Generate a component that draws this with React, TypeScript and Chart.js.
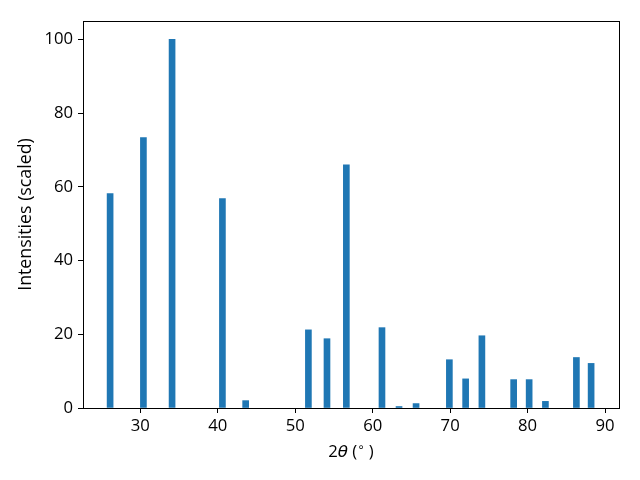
import React, { useEffect, useRef } from "react";
import { Chart, registerables } from "chart.js";

Chart.register(...registerables);

const twoTheta = [26.1, 30.4, 34.1, 40.6, 43.6, 51.7, 54.1, 56.6, 61.2, 63.4, 65.6, 69.9, 72.0, 74.1, 78.2, 80.2, 82.3, 86.3, 88.2];
const intensities = [58.2, 73.4, 100, 56.8, 2.0, 21.2, 18.8, 66.0, 21.8, 0.4, 1.2, 13.1, 7.9, 19.6, 7.7, 7.7, 1.8, 13.7, 12.1];
const xTicks = [30, 40, 50, 60, 70, 80, 90];
const yTicks = [0, 20, 40, 60, 80, 100];
const yTitle = "Intensities (scaled)";

const FONT = "'Open Sans', sans-serif";
const SIZE = 16.7;

const framePlugin = {
  id: "frame",
  afterDraw(chart: any) {
    const { ctx, chartArea } = chart;
    ctx.save();
    ctx.strokeStyle = "#000";
    ctx.lineWidth = 1;
    ctx.strokeRect(
      Math.round(chartArea.left) + 0.5,
      Math.round(chartArea.top) + 0.5,
      Math.round(chartArea.right - chartArea.left),
      Math.round(chartArea.bottom - chartArea.top)
    );
    // x axis title: 2θ (°)
    const parts: [string, string, number][] = [
      ["2", `${SIZE}px ${FONT}`, 0],
      ["θ", `italic ${SIZE}px 'DejaVu Sans', sans-serif`, 0],
      [" (", `${SIZE}px ${FONT}`, 0],
      ["∘", `${SIZE * 0.7}px 'DejaVu Sans', sans-serif`, -6],
      [" )", `${SIZE}px ${FONT}`, 0],
    ];
    let total = 0;
    const widths = parts.map(([t, f]) => {
      ctx.font = f;
      const w = ctx.measureText(t).width;
      total += w;
      return w;
    });
    let x = (chartArea.left + chartArea.right) / 2 - total / 2;
    const baseY = 457;
    ctx.fillStyle = "#000";
    ctx.textBaseline = "alphabetic";
    ctx.textAlign = "left";
    parts.forEach(([t, f, dy], i) => {
      ctx.font = f;
      ctx.fillText(t, x, baseY + dy);
      x += widths[i];
    });
    ctx.restore();
  },
};

export default function App() {
  const ref = useRef<HTMLCanvasElement>(null);
  useEffect(() => {
    document.body.style.margin = "0";
    const chart = new Chart(ref.current!, {
      type: "bar",
      data: {
        datasets: [
          {
            data: twoTheta.map((x, i) => ({ x, y: intensities[i] })),
            backgroundColor: "#1f77b4",
            borderWidth: 0,
            barThickness: 6,
          },
        ],
      },
      options: {
        animation: false,
        responsive: false,
        layout: { padding: { left: 0, top: 21, right: 21, bottom: 0 } },
        plugins: { legend: { display: false }, tooltip: { enabled: false } },
        scales: {
          x: {
            type: "linear",
            offset: false,
            min: 22.6,
            max: 91.8,
            afterBuildTicks: (s: any) => {
              s.ticks = xTicks.map((v) => ({ value: v }));
            },
            afterFit: (s: any) => {
              s.height = 72;
            },
            grid: { offset: false, drawOnChartArea: false, drawTicks: true, tickLength: 5, color: "#000", tickWidth: 1 },
            border: { display: true, color: "#000", width: 1 },
            ticks: { color: "#000", font: { family: FONT, size: SIZE }, padding: 3, maxRotation: 0, autoSkip: false },
            title: { display: false },
          },
          y: {
            type: "linear",
            min: 0,
            max: 105,
            afterBuildTicks: (s: any) => {
              s.ticks = yTicks.map((v) => ({ value: v }));
            },
            afterFit: (s: any) => {
              s.width = 83;
            },
            grid: { drawOnChartArea: false, drawTicks: true, tickLength: 5, color: "#000", tickWidth: 1 },
            border: { display: true, color: "#000", width: 1 },
            ticks: { color: "#000", font: { family: FONT, size: SIZE }, padding: 5, autoSkip: false },
            title: { display: true, text: yTitle, color: "#000", font: { family: FONT, size: 17.8 }, padding: { top: 15, bottom: 4 } },
          },
        },
      },
      plugins: [framePlugin],
    } as any);
    return () => chart.destroy();
  }, []);
  return (
    <div style={{ width: 640, height: 480 }}>
      <canvas ref={ref} width={640} height={480} style={{ display: "block", width: 640, height: 480 }} />
    </div>
  );
}
